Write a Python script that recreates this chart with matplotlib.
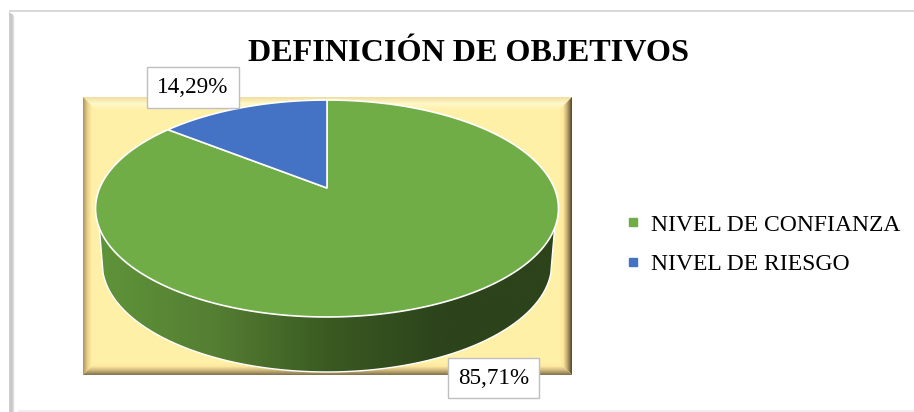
import numpy as np
import matplotlib
matplotlib.use('Agg')
import matplotlib.pyplot as plt
from matplotlib.colors import LinearSegmentedColormap
from matplotlib.lines import Line2D
from matplotlib.patches import Polygon

plt.rcParams['font.family'] = ['Liberation Serif', 'DejaVu Serif']

title = 'DEFINICIÓN DE OBJETIVOS'
categories = ['NIVEL DE CONFIANZA', 'NIVEL DE RIESGO']
shares = [85.71, 14.29]
share_labels = ['85,71%', '14,29%']
slice_colors = ['#70AD47', '#4472C4']

W, H = 914, 412
fig = plt.figure(figsize=(W / 100, H / 100), dpi=100)
ax = fig.add_axes([0, 0, 1, 1])
ax.set_axis_off()


def gradient(stops, extent, horizontal, clip, z):
    # paint a colour ramp and cut it to the polygon
    cmap = LinearSegmentedColormap.from_list('g', stops)
    ramp = np.linspace(0, 1, 256)
    ramp = ramp.reshape(1, -1) if horizontal else ramp.reshape(-1, 1)
    im = ax.imshow(ramp, cmap=cmap, extent=extent, aspect='auto', zorder=z,
                   origin='lower' if not horizontal else 'upper', interpolation='bilinear')
    patch = Polygon(clip, closed=True, transform=ax.transData, fc='none', ec='none')
    ax.add_patch(patch)
    im.set_clip_path(patch)


# outer chart border
ax.add_patch(plt.Rectangle((9, 10), W - 9, 2, fc='#D9D9D9', ec='none', zorder=1))
gradient(['#CFCFCF', '#C4C4C4', '#FFFFFF'], (9, 15, H, 12), True,
         [(9, 12), (15, 16), (15, H), (9, H)], 1)
ax.add_patch(plt.Rectangle((18, 410), W - 18, 2, fc='#EFEFEF', ec='none', zorder=1))

# plot area with bevel
x0, x1, y0, y1 = 83, 572, 97, 375
bevel = 13
fill = '#FFF0A8'
ax.add_patch(plt.Rectangle((x0, y0), x1 - x0, y1 - y0, fc=fill, ec='none', zorder=2))
gradient(['#F2DDA0', '#FFF8C8', fill], (x0, x1, y0, y0 + bevel), False,
         [(x0, y0), (x1, y0), (x1 - bevel, y0 + bevel), (x0 + bevel, y0 + bevel)], 3)
gradient(['#A8935E', '#E8CF88', '#FFEFA8', fill], (x0, x0 + bevel, y1, y0), True,
         [(x0, y0), (x0 + bevel, y0 + bevel), (x0 + bevel, y1 - bevel), (x0, y1)], 3)
gradient([fill, '#FFE69C', '#B8A26A', '#4F442C'], (x1 - bevel, x1, y1, y0), True,
         [(x1, y0), (x1 - bevel, y0 + bevel), (x1 - bevel, y1 - bevel), (x1, y1)], 3)
gradient(['#7F6F4A', '#C8B27A', '#FFE8A0', fill], (x0, x1, y1, y1 - bevel), False,
         [(x0, y1), (x1, y1), (x1 - bevel, y1 - bevel), (x0 + bevel, y1 - bevel)], 3)

# tilted pie: circle seen in perspective
cx, cy = 327, 188
a, b, k = 227.3, 104.6, 0.189


def project(t, scale=1.0, drop=0.0):
    # t is measured clockwise from the top of the pie
    px, py = np.sin(t), np.cos(t)
    w = 1 + k * py
    return cx + scale * a * px / w, cy + drop - b * py / w


# side wall, only the front part shows
tx, ty = project(np.linspace(np.radians(111), np.radians(249), 300))
bx, by = project(np.linspace(np.radians(105.7), np.radians(254.3), 300), 0.971, 55)
wall = list(zip(tx, ty)) + list(zip(bx[::-1], by[::-1]))
gradient(['#5F9439', '#557F33', '#3A5A22', '#2C431B', '#2C431B'], (96, 560, 380, 220), True, wall, 4)
ax.plot(np.r_[tx[0], bx, tx[-1]], np.r_[ty[0], by, ty[-1]], color='white', lw=1, zorder=5)

# top face from the shares
angles = np.cumsum([0] + shares) / sum(shares) * 2 * np.pi
for i in range(len(shares)):
    t = np.linspace(angles[i], angles[i + 1], 300)
    sx, sy = project(t)
    pts = [(cx, cy)] + list(zip(sx, sy))
    ax.add_patch(Polygon(pts, closed=True, fc=slice_colors[i], ec='white', lw=1.2, zorder=6))

# data labels
label_pos = [(493.5, 378), (193, 87.5)]
for s, (lx, ly) in zip(share_labels, label_pos):
    ax.text(lx, ly, s, fontsize=16.7, ha='center', va='center', color='black', zorder=8,
            bbox=dict(boxstyle='square,pad=0.43', fc='white', ec='#BFBFBF', lw=1))

ax.text(468, 53, title, fontsize=23.1, fontweight='bold', ha='center', va='center', color='black', zorder=8)

# legend
handles = [Line2D([], [], ls='none', marker='s', ms=5.2, color=c) for c in slice_colors]
ax.legend(handles, categories, loc='upper left', bbox_to_anchor=(626, 214),
          bbox_transform=ax.transData, frameon=False, fontsize=17, handlelength=0.6,
          handletextpad=0.45, labelspacing=0.75, borderpad=0, borderaxespad=0)

ax.set_xlim(0, W)
ax.set_ylim(H, 0)
fig.savefig('out.png', dpi=100)
